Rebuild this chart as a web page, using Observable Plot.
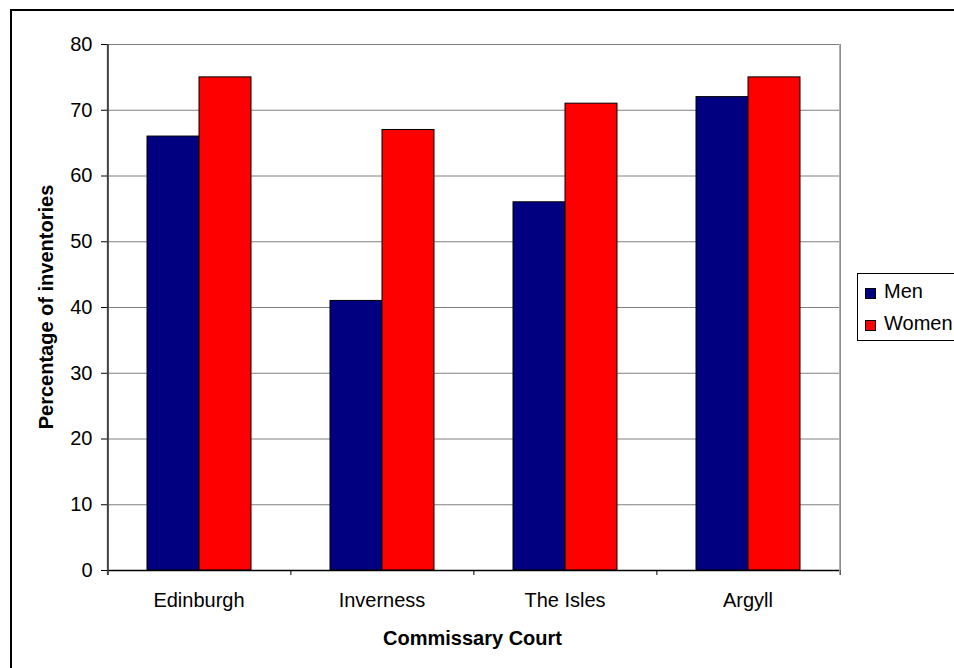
<!DOCTYPE html>
<html><head><meta charset="utf-8">
<script src="https://cdn.jsdelivr.net/npm/d3@7"></script>
<script src="https://cdn.jsdelivr.net/npm/@observablehq/plot@0.6"></script>
<style>
body{margin:0;background:#fff;overflow:hidden;font-family:"Liberation Sans",Arial,sans-serif;}
#wrap{position:relative;width:954px;height:668px;overflow:hidden;background:#fff;}
#chart{position:absolute;left:0;top:0;}
#border{position:absolute;left:10px;top:9px;width:1000px;height:1000px;border:2px solid #000;pointer-events:none;}
.title{position:absolute;font-weight:bold;font-size:20px;line-height:20px;white-space:nowrap;color:#000;}
#ytitle{left:46px;top:307px;transform:translate(-50%,-50%) rotate(-90deg);}
#xtitle{left:472.5px;top:628px;transform:translateX(-50%);}
#legend{position:absolute;left:857px;top:273px;width:120px;height:66px;border:1px solid #000;background:#fff;}
.sw{position:absolute;width:9px;height:9px;border:1px solid #000;left:7px;}
.lt{position:absolute;left:26px;font-size:20px;line-height:20px;white-space:nowrap;color:#000;}
</style></head><body>
<div id="wrap">
<div id="chart"></div>
<div id="border"></div>
<div id="ytitle" class="title">Percentage of inventories</div>
<div id="xtitle" class="title">Commissary Court</div>
<div id="legend"></div>
</div>
<script>
const courts = ["Edinburgh", "Inverness", "The Isles", "Argyll"];
const series = ["Men", "Women"];
const men = [66, 41, 56, 72];
const women = [75, 67, 71, 75];
const yTicks = [0, 10, 20, 30, 40, 50, 60, 70, 80];
const colors = ["#000080", "#ff0000"];

const rows = courts.flatMap((c, i) => [
  {court: c, sex: series[0], value: men[i]},
  {court: c, sex: series[1], value: women[i]}
]);

const W = 954, H = 668, mL = 105, mR = 114, mT = 44, mB = 98;
const facetW = (W - mL - mR) / courts.length;
const pad = 0.75;
const edge = facetW * (pad + 0.5) / (2 + 2 * pad);
const first = courts[0], last = courts[courts.length - 1];

const chart = Plot.plot({
  width: W, height: H,
  marginLeft: mL, marginRight: mR, marginTop: mT, marginBottom: mB,
  style: {fontFamily: '"Liberation Sans", Arial, sans-serif', fontSize: "20px", color: "#000", background: "transparent"},
  fx: {domain: courts, padding: 0, label: null, tickSize: 0, tickPadding: 22, axis: "bottom"},
  x: {domain: series, paddingInner: 0, paddingOuter: pad, axis: null},
  y: {domain: [0, 80], ticks: yTicks, tickSize: 6, tickPadding: 9, label: null, tickFormat: d => String(d)},
  color: {domain: series, range: colors},
  marks: [
    Plot.ruleY(yTicks.filter(d => d > 0), {stroke: "#808080", strokeWidth: 1}),
    Plot.barY(rows, {fx: "court", x: "sex", y: "value", fill: "sex", stroke: "#000", strokeWidth: 1}),
    Plot.ruleY([0], {stroke: "#000", strokeWidth: 1.5}),
    Plot.ruleX(courts.slice(1), {fx: d => d, x: () => series[0], dx: -edge, y1: 0, y2: 0, insetBottom: -5, stroke: "#000"}),
    Plot.ruleX([first], {fx: d => d, x: () => series[0], dx: -edge, insetBottom: -5, stroke: "#404040", strokeWidth: 2}),
    Plot.ruleX([last], {fx: d => d, x: () => series[1], dx: edge, stroke: "#808080", strokeWidth: 1.5}),
    Plot.ruleX([last], {fx: d => d, x: () => series[1], dx: edge, y1: 0, y2: 0, insetBottom: -5, stroke: "#000"})
  ]
});
document.getElementById("chart").appendChild(chart);

const legend = document.getElementById("legend");
series.forEach((s, i) => {
  const sw = document.createElement("div");
  sw.className = "sw";
  sw.style.top = (14 + i * 32) + "px";
  sw.style.background = colors[i];
  legend.appendChild(sw);
  const t = document.createElement("div");
  t.className = "lt";
  t.style.top = (7 + i * 32) + "px";
  t.textContent = s;
  legend.appendChild(t);
});
</script>
</body></html>
